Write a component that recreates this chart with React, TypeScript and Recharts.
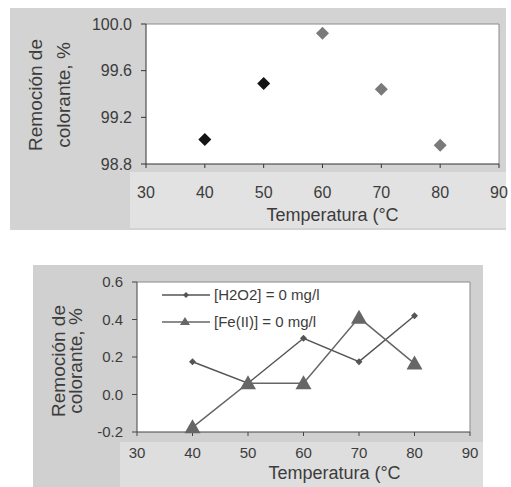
import React from 'react';
import {
  ScatterChart, Scatter, LineChart, Line, XAxis, YAxis, CartesianGrid, ReferenceLine, Legend, Cell,
} from 'recharts';

const X_TICKS = [30, 40, 50, 60, 70, 80, 90];

// top chart: removal vs temperature
const TOP_TEMPS = [40, 50, 60, 70, 80];
const TOP_REMOVAL = [99.01, 99.49, 99.92, 99.44, 98.96];
const TOP_Y_TICKS = [98.8, 99.2, 99.6, 100.0];

// bottom chart: blank runs
const BOTTOM_TEMPS = [40, 50, 60, 70, 80];
const H2O2_ZERO = [0.175, 0.06, 0.3, 0.175, 0.42];
const FE_ZERO = [-0.175, 0.06, 0.06, 0.41, 0.165];
const BOTTOM_Y_TICKS = [-0.2, 0, 0.2, 0.4, 0.6];

const SERIES_NAMES = ['[H2O2] = 0 mg/l', '[Fe(II)] = 0 mg/l'];

const TOP_COLORS = ['#141414', '#141414', '#7a7a7a', '#7a7a7a', '#7a7a7a'];

const FONT = '"Liberation Sans", Arial, sans-serif';
const TEXT = '#3c3c3c';

const topData = TOP_TEMPS.map((t, i) => ({ t, v: TOP_REMOVAL[i] }));
const bottomData = BOTTOM_TEMPS.map((t, i) => ({ t, h2o2: H2O2_ZERO[i], fe: FE_ZERO[i] }));

const Diamond = (props: any) => {
  const { cx, cy, fill } = props;
  const r = 6.5;
  return <path d={`M${cx},${cy - r}L${cx + r},${cy}L${cx},${cy + r}L${cx - r},${cy}Z`} fill={fill} />;
};

const SmallMark = (props: any) => {
  const { cx, cy, index } = props;
  const r = 3.5;
  return <path key={`h${index}`} d={`M${cx},${cy - r}L${cx + r},${cy}L${cx},${cy + r}L${cx - r},${cy}Z`} fill="#555" />;
};

const Triangle = (props: any) => {
  const { cx, cy, index } = props;
  return <path key={`f${index}`} d={`M${cx},${cy - 8}L${cx + 8},${cy + 6}L${cx - 8},${cy + 6}Z`} fill="#666" />;
};

const YLabel = ({ viewBox, x1, x2, dy, size }: any) => {
  const cy = viewBox.y + viewBox.height / 2 + dy;
  return (
    <g fill={TEXT} fontFamily={FONT} fontSize={size}>
      <text x={x1} y={cy} textAnchor="middle" dominantBaseline="central" transform={`rotate(-90 ${x1} ${cy})`}>Remoción de</text>
      <text x={x2} y={cy} textAnchor="middle" dominantBaseline="central" transform={`rotate(-90 ${x2} ${cy})`}>colorante, %</text>
    </g>
  );
};

const XLabel = ({ viewBox, dx, dy, size }: any) => (
  <text x={viewBox.x + viewBox.width / 2 + dx} y={viewBox.y + dy} textAnchor="middle" dominantBaseline="central"
    fill={TEXT} fontFamily={FONT} fontSize={size}>Temperatura (°C</text>
);

const LegendBox = () => (
  <div style={{ fontFamily: FONT, fontSize: 15, color: TEXT }}>
    {SERIES_NAMES.map((name, i) => (
      <div key={name} style={{ display: 'flex', alignItems: 'center', height: 27 }}>
        <svg width={52} height={16}>
          <line x1={2} y1={8} x2={50} y2={8} stroke={i === 0 ? '#555' : '#666'} strokeWidth={1.5} />
          {i === 0
            ? <path d="M26,5L29,8L26,11L23,8Z" fill="#555" />
            : <path d="M25,3L30,11L20,11Z" fill="#666" />}
        </svg>
        <span style={{ marginLeft: 2 }}>{name}</span>
      </div>
    ))}
  </div>
);

export default function App() {
  return (
    <div style={{ position: 'absolute', left: 0, top: 0, width: 511, height: 487, background: '#fff' }}>
      {/* scanned gray panels */}
      <div style={{ position: 'absolute', left: 10, top: 8, width: 496, height: 222, background: '#d3d3d3' }} />
      <div style={{ position: 'absolute', left: 130, top: 172, width: 376, height: 56, background: '#e2e2e2' }} />
      <div style={{ position: 'absolute', left: 33, top: 265, width: 450, height: 222, background: '#d0d0d0' }} />
      <div style={{ position: 'absolute', left: 120, top: 442, width: 363, height: 45, background: '#dedede' }} />

      <div style={{ position: 'absolute', left: 0, top: 0 }}>
        <ScatterChart width={511} height={240} margin={{ top: 24, right: 12, left: 0, bottom: 16 }}>
          <CartesianGrid horizontal={false} vertical={false} fill="#fff" />
          <XAxis type="number" dataKey="t" domain={[30, 90]} ticks={X_TICKS} height={60}
            stroke="#333" tickSize={4} tickMargin={19}
            tick={{ fill: TEXT, fontSize: 16, fontFamily: FONT }}
            label={(p: any) => <XLabel {...p} dx={10} dy={51} size={18} />} />
          <YAxis type="number" dataKey="v" domain={[98.8, 100]} ticks={TOP_Y_TICKS} width={146}
            stroke="#333" tickSize={5} tickMargin={9} tickFormatter={(v: number) => v.toFixed(1)}
            tick={{ fill: TEXT, fontSize: 16, fontFamily: FONT }}
            label={(p: any) => <YLabel {...p} x1={35} x2={63} dy={1} size={19} />} />
          <ReferenceLine y={100} stroke="#8a8a8a" />
          <ReferenceLine x={90} stroke="#8a8a8a" />
          <Scatter data={topData} shape={Diamond} isAnimationActive={false}>
            {topData.map((d, i) => <Cell key={i} fill={TOP_COLORS[i]} />)}
          </Scatter>
        </ScatterChart>
      </div>

      <div style={{ position: 'absolute', left: 0, top: 240 }}>
        <LineChart width={511} height={247} data={bottomData} margin={{ top: 42, right: 41, left: 0, bottom: 5 }}>
          <CartesianGrid horizontal={false} vertical={false} fill="#fff" />
          <XAxis type="number" dataKey="t" domain={[30, 90]} ticks={X_TICKS} height={50}
            stroke="#444" tickSize={4} tickMargin={11}
            tick={{ fill: TEXT, fontSize: 15, fontFamily: FONT }}
            label={(p: any) => <XLabel {...p} dx={31} dy={41} size={18} />} />
          <YAxis type="number" domain={[-0.2, 0.6]} ticks={BOTTOM_Y_TICKS} width={137}
            stroke="#444" tickSize={5} tickMargin={9} tickFormatter={(v: number) => v.toFixed(1)}
            tick={{ fill: TEXT, fontSize: 15, fontFamily: FONT }}
            label={(p: any) => <YLabel {...p} x1={58} x2={75} dy={4} size={19} />} />
          <ReferenceLine y={0.6} stroke="#8a8a8a" />
          <ReferenceLine x={90} stroke="#8a8a8a" />
          <Legend layout="vertical" align="center" verticalAlign="middle"
            wrapperStyle={{ left: 160, top: 41, width: 220 }} content={() => <LegendBox />} />
          <Line type="linear" dataKey="h2o2" name={SERIES_NAMES[0]} stroke="#555" strokeWidth={1.5}
            dot={SmallMark} activeDot={false} isAnimationActive={false} />
          <Line type="linear" dataKey="fe" name={SERIES_NAMES[1]} stroke="#666" strokeWidth={1.5}
            dot={Triangle} activeDot={false} isAnimationActive={false} />
        </LineChart>
      </div>
    </div>
  );
}
